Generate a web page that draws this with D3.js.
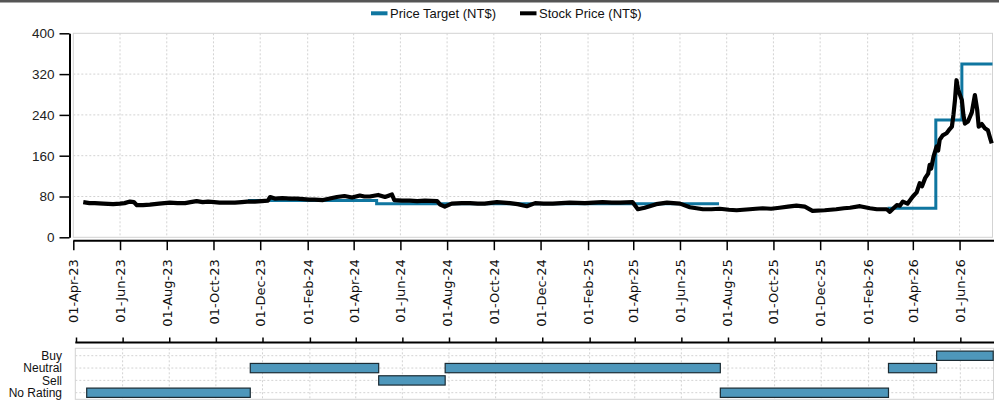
<!DOCTYPE html>
<html>
<head>
<meta charset="utf-8">
<script src="https://cdn.jsdelivr.net/npm/d3@7"></script>
<style>
  body { margin: 0; background: #fff; }
  svg { display: block; }
</style>
</head>
<body>
<svg id="chart" width="999" height="401"></svg>
<script>
// stock price (NT$)
const priceDates = [
  '2023-04-14', '2023-04-22', '2023-04-29', '2023-05-10', '2023-05-23', '2023-06-01', '2023-06-07', '2023-06-14',
  '2023-06-19', '2023-06-23', '2023-07-01', '2023-07-10', '2023-07-22', '2023-08-05', '2023-08-15', '2023-08-25',
  '2023-09-01', '2023-09-09', '2023-09-17', '2023-09-24', '2023-10-02', '2023-10-09', '2023-10-19', '2023-10-29',
  '2023-11-07', '2023-11-14', '2023-11-24', '2023-12-03', '2023-12-11', '2023-12-14', '2023-12-20', '2023-12-30',
  '2024-01-09', '2024-01-18', '2024-01-26', '2024-02-03', '2024-02-10', '2024-02-21', '2024-03-01', '2024-03-10',
  '2024-03-20', '2024-03-30', '2024-04-09', '2024-04-15', '2024-04-22', '2024-05-03', '2024-05-12', '2024-05-21',
  '2024-05-24', '2024-06-03', '2024-06-13', '2024-06-23', '2024-07-03', '2024-07-19', '2024-07-23', '2024-07-29',
  '2024-08-07', '2024-08-20', '2024-08-31', '2024-09-10', '2024-09-19', '2024-10-05', '2024-10-22', '2024-11-01',
  '2024-11-13', '2024-11-24', '2024-12-05', '2024-12-17', '2024-12-28', '2025-01-08', '2025-01-28', '2025-02-08',
  '2025-02-20', '2025-03-04', '2025-03-15', '2025-03-31', '2025-04-07', '2025-04-16', '2025-05-01', '2025-05-15',
  '2025-06-01', '2025-06-14', '2025-07-01', '2025-07-12', '2025-07-23', '2025-08-04', '2025-08-14', '2025-08-31',
  '2025-09-08', '2025-09-17', '2025-09-28', '2025-10-09', '2025-10-20', '2025-10-31', '2025-11-11', '2025-11-21',
  '2025-12-07', '2025-12-22', '2026-01-01', '2026-01-09', '2026-01-22', '2026-02-04', '2026-02-13', '2026-02-26',
  '2026-03-02', '2026-03-06', '2026-03-11', '2026-03-15', '2026-03-19', '2026-03-25', '2026-04-01', '2026-04-06',
  '2026-04-10', '2026-04-13', '2026-04-17', '2026-04-21', '2026-04-23', '2026-04-25', '2026-04-28', '2026-05-02',
  '2026-05-04', '2026-05-06', '2026-05-10', '2026-05-15', '2026-05-18', '2026-05-22', '2026-05-24', '2026-05-26',
  '2026-05-28', '2026-05-30', '2026-06-04', '2026-06-06', '2026-06-08', '2026-06-12', '2026-06-17', '2026-06-21',
  '2026-06-24', '2026-06-26', '2026-06-30', '2026-07-04', '2026-07-08', '2026-07-11', '2026-07-13'
]
const priceValues = [
  69, 67, 67, 66, 65, 66, 67, 70,
  69, 63, 63, 64, 66, 68, 67, 67,
  69, 71, 69, 70, 69, 68, 68, 68,
  69, 70, 70, 71, 72, 79, 76, 77,
  76, 76, 75, 74, 74, 73, 76, 79,
  81, 78, 82, 80, 80, 83, 79, 84,
  73, 72, 72, 71, 72, 71, 64, 60,
  66, 67, 67, 66, 66, 69, 67, 65,
  61, 67, 66, 66, 67, 68, 67, 68,
  69, 68, 68, 69, 55, 58, 65, 68,
  66, 59, 55, 55, 56, 54, 53, 55,
  56, 57, 56, 58, 60, 62, 60, 52,
  53, 55, 57, 58, 61, 57, 55, 55,
  50, 56, 63, 62, 70, 66, 80, 88,
  106, 100, 116, 125, 142, 135, 158, 178,
  170, 191, 200, 204, 210, 217, 240, 269,
  308, 290, 269, 240, 223, 227, 245, 279,
  250, 217, 222, 214, 210, 194, 184
]

// analyst price target (NT$), null = no target
const targetDates = ['2023-11-15', '2024-05-01', '2025-07-22', '2025-07-23', '2026-02-27', '2026-05-01', '2026-06-04', '2026-07-14']
const targetValues = [72, 66, 66, null, 57, 230, 340, 340]

// rating periods
const ratingNames = ['Buy', 'Neutral', 'Sell', 'No Rating']
const ratingStarts = ['2023-04-15', '2023-11-15', '2024-05-01', '2024-07-27', '2025-07-22', '2026-02-27', '2026-05-01']
const ratingEnds = ['2023-11-15', '2024-05-01', '2024-07-27', '2025-07-22', '2026-02-27', '2026-05-01', '2026-07-14']
const ratingValues = ['No Rating', 'Neutral', 'Sell', 'Neutral', 'No Rating', 'Neutral', 'Buy']

const yTicks = [0, 80, 160, 240, 320, 400]
const seriesNames = ['Price Target (NT$)', 'Stock Price (NT$)']

const parse = d3.utcParse('%Y-%m-%d')
const fmt = d3.utcFormat('%d-%b-%y')
const start = parse('2023-04-01')
const end = parse('2026-07-14')

const blue = '#0f76a0'
const grid = '#d3d3d3'
const sans = 'Liberation Sans, Arial, sans-serif'

const svg = d3.select('#chart')

svg.append('rect')
  .attr('x', 0).attr('y', 0)
  .attr('width', 999).attr('height', 2.5)
  .style('fill', '#555')

const x = d3.scaleUtc().domain([start, end]).range([73.3, 992.5])
const xb = d3.scaleUtc().domain([start, end]).range([76, 993.2])
const y = d3.scaleLinear().domain([0, 400]).range([237.3, 33.3])
const row = d3.scalePoint().domain(ratingNames).range([355.7, 392.7])

const monthTicks = d3.utcMonth.range(start, end).filter(d => d.getUTCMonth() % 2 === 1)

// ---- main panel
svg.append('rect')
  .attr('x', x.range()[0]).attr('y', y(400))
  .attr('width', x.range()[1] - x.range()[0])
  .attr('height', y(0) - y(400))
  .style('fill', 'none')
  .style('stroke', grid)

svg.append('g').selectAll('line')
  .data(monthTicks.slice(1))
  .enter().append('line')
  .attr('x1', d => x(d)).attr('x2', d => x(d))
  .attr('y1', y(400)).attr('y2', y(0))
  .style('stroke', grid)
  .style('stroke-dasharray', '2,2')

svg.append('g').selectAll('line')
  .data(yTicks.slice(1, -1))
  .enter().append('line')
  .attr('x1', x.range()[0]).attr('x2', x.range()[1])
  .attr('y1', d => y(d)).attr('y2', d => y(d))
  .style('stroke', grid)
  .style('stroke-dasharray', '2,2')

const targetLine = d3.line()
  .defined(d => d.v !== null)
  .x(d => x(d.date))
  .y(d => y(d.v))
  .curve(d3.curveStepAfter)

svg.append('path')
  .datum(targetDates.map((d, i) => ({ date: parse(d), v: targetValues[i] })))
  .attr('d', targetLine)
  .style('fill', 'none')
  .style('stroke', blue)
  .style('stroke-width', 3)

const priceLine = d3.line()
  .x(d => x(d.date))
  .y(d => y(d.v))

svg.append('path')
  .datum(priceDates.map((d, i) => ({ date: parse(d), v: priceValues[i] })))
  .attr('d', priceLine)
  .style('fill', 'none')
  .style('stroke', '#000')
  .style('stroke-width', 4.2)
  .style('stroke-linejoin', 'round')

// y axis
const yAxis = svg.append('g')
  .attr('transform', 'translate(69.5,0)')
  .call(d3.axisLeft(y).tickValues(yTicks).tickSize(10).tickSizeOuter(0).tickPadding(5))
yAxis.select('.domain').style('stroke-width', 2)
yAxis.selectAll('.tick line').style('stroke-width', 1.5)
yAxis.selectAll('text')
  .style('font-family', sans)
  .style('font-size', '13.5px')
  .style('fill', '#222')

// x axis
const xAxis = svg.append('g')
  .attr('transform', 'translate(0,240.7)')
  .call(d3.axisBottom(x).tickValues(monthTicks).tickSize(9.5).tickSizeOuter(0).tickFormat(fmt))
xAxis.select('.domain').attr('d', `M${x.range()[0]},0H994`).style('stroke-width', 2)
xAxis.selectAll('.tick line').style('stroke-width', 1.5)
xAxis.selectAll('text')
  .attr('transform', 'rotate(-90)')
  .attr('x', -18.5)
  .attr('y', 0)
  .attr('dy', '0.35em')
  .style('text-anchor', 'end')
  .style('font-family', 'DejaVu Sans, sans-serif')
  .style('font-size', '13px')
  .style('fill', '#111')

// ---- rating panel
const bAxis = svg.append('g')
  .attr('transform', 'translate(0,342.5)')
  .call(d3.axisTop(xb).tickValues(monthTicks).tickSize(5).tickSizeOuter(0).tickFormat(''))
bAxis.select('.domain').attr('d', `M${xb.range()[0] - 0.7},0H994`).style('stroke-width', 2)
bAxis.selectAll('.tick line').style('stroke-width', 1.5)

svg.append('rect')
  .attr('x', 75.3).attr('y', 348.3)
  .attr('width', 993.5 - 75.3).attr('height', 51)
  .style('fill', 'none')
  .style('stroke', grid)

svg.append('g').selectAll('line')
  .data(monthTicks.slice(1))
  .enter().append('line')
  .attr('x1', d => xb(d)).attr('x2', d => xb(d))
  .attr('y1', 348.3).attr('y2', 399.3)
  .style('stroke', grid)
  .style('stroke-dasharray', '2,2')

svg.append('g').selectAll('line')
  .data(ratingNames)
  .enter().append('line')
  .attr('x1', 75.3).attr('x2', 993.5)
  .attr('y1', d => row(d)).attr('y2', d => row(d))
  .style('stroke', grid)
  .style('stroke-dasharray', '2,2')

svg.append('g').selectAll('text')
  .data(ratingNames)
  .enter().append('text')
  .attr('x', 62)
  .attr('y', d => row(d))
  .attr('dy', '0.36em')
  .style('text-anchor', 'end')
  .style('font-family', sans)
  .style('font-size', '12px')
  .style('fill', '#111')
  .text(d => d)

svg.append('g').selectAll('rect')
  .data(ratingValues.map((r, i) => ({ r, s: parse(ratingStarts[i]), e: parse(ratingEnds[i]) })))
  .enter().append('rect')
  .attr('x', d => xb(d.s))
  .attr('y', d => row(d.r) - 4.6)
  .attr('width', d => xb(d.e) - xb(d.s))
  .attr('height', 9.3)
  .style('fill', '#4e97bb')
  .style('stroke', '#1b2b33')
  .style('stroke-width', 1.2)

// ---- legend
const legend = svg.append('g').attr('transform', 'translate(0,13.3)')
const legendX = [371, 520]
const legendColors = [blue, '#000']

legend.selectAll('line')
  .data(seriesNames)
  .enter().append('line')
  .attr('x1', (d, i) => legendX[i]).attr('x2', (d, i) => legendX[i] + 16.5)
  .attr('y1', 0).attr('y2', 0)
  .style('stroke', (d, i) => legendColors[i])
  .style('stroke-width', 4)

legend.selectAll('text')
  .data(seriesNames)
  .enter().append('text')
  .attr('x', (d, i) => legendX[i] + 19)
  .attr('y', 0)
  .attr('dy', '0.35em')
  .style('font-family', sans)
  .style('font-size', '13px')
  .style('fill', '#111')
  .text(d => d)
</script>
</body>
</html>
